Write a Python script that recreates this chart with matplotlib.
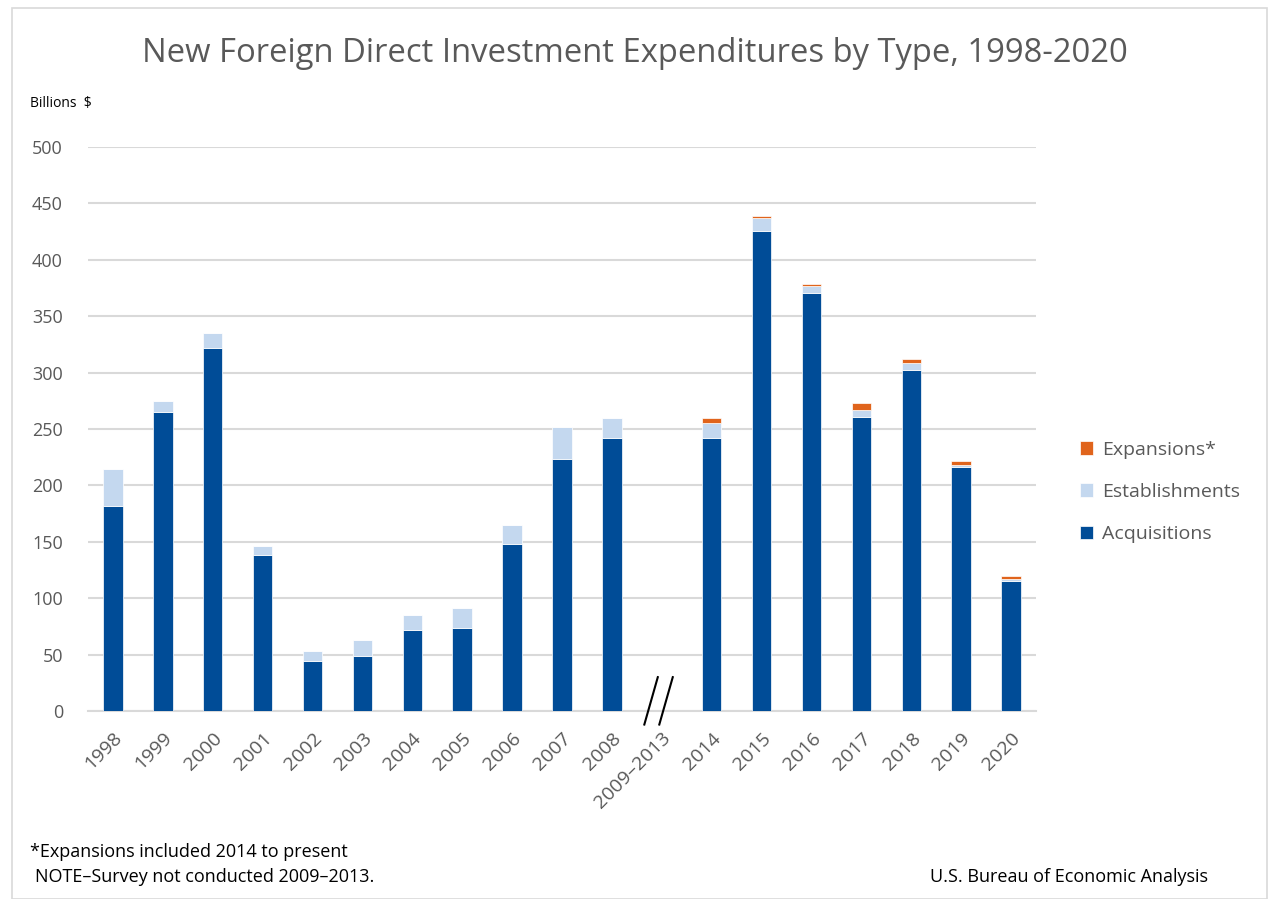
import numpy as np
import matplotlib
matplotlib.use('Agg')
import matplotlib.pyplot as plt
from matplotlib.patches import Rectangle

years = ['1998', '1999', '2000', '2001', '2002', '2003', '2004', '2005', '2006',
         '2007', '2008', '2009\u20132013', '2014', '2015', '2016', '2017', '2018',
         '2019', '2020']
acquisitions = [181.7, 265.0, 321.5, 138.3, 44.3, 49.0, 72.1, 73.9, 147.8,
                223.4, 242.0, np.nan, 242.3, 425.8, 370.8, 261.0, 302.6, 216.0, 115.5]
establishments = [32.8, 9.8, 13.3, 8.0, 8.9, 13.9, 13.0, 17.1, 16.8,
                  28.4, 17.5, np.nan, 13.0, 11.2, 6.2, 5.8, 6.2, 2.0, 1.6]
expansions = [0, 0, 0, 0, 0, 0, 0, 0, 0,
              0, 0, np.nan, 4.2, 2.1, 1.5, 5.9, 3.5, 3.9, 2.8]

c_acq = '#004C97'
c_est = '#C4D8EF'
c_exp = '#E0641C'
gray = '#595959'

plt.rcParams['font.family'] = ['Open Sans', 'DejaVu Sans']

fig = plt.figure(figsize=(12.69, 8.99), dpi=100)
ax = fig.add_axes([88 / 1269, 1 - 711 / 899, (1036 - 88) / 1269, (711 - 147) / 899])

x = np.arange(len(years))
acq = np.array(acquisitions)
est = np.array(establishments)
exp = np.array(expansions)
w = 0.39
ax.bar(x, acq, w, color=c_acq, edgecolor='white', linewidth=0.5, label='Acquisitions', zorder=3)
ax.bar(x, est, w, bottom=acq, color=c_est, edgecolor='white', linewidth=0.5,
       label='Establishments', zorder=3)
ax.bar(x, exp, w, bottom=acq + est, color=c_exp, edgecolor='white', linewidth=0.5,
       label='Expansions*', zorder=3)

ax.set_xlim(-0.5, len(years) - 0.5)
ax.set_ylim(0, 500)
ax.set_yticks(range(0, 501, 50))
ax.yaxis.grid(True, color='#D9D9D9', linewidth=1.5, zorder=0)
ax.set_axisbelow(True)
for s in ['top', 'right', 'left']:
    ax.spines[s].set_visible(False)
ax.spines['bottom'].set_color('#D9D9D9')
ax.spines['bottom'].set_linewidth(1.5)
ax.tick_params(axis='both', length=0, labelcolor=gray)
ax.tick_params(axis='y', pad=18, labelsize=13)
ax.tick_params(axis='x', pad=13, labelsize=14)
ax.set_xticks(x)
ax.set_xticklabels(years, rotation=45, ha='right', rotation_mode='anchor')

# break marks for the survey gap
gap = years.index('2009\u20132013')
for dx in (-0.3, 0.0):
    ax.plot([gap + dx - 0.05, gap + dx + 0.22], [-12, 30], color='black',
            linewidth=1.5, clip_on=False, zorder=5)

handles, labels = ax.get_legend_handles_labels()
fig.legend(handles[::-1], labels[::-1], loc='center left',
           bbox_to_anchor=(1062 / 1269, 1 - 492 / 899), frameon=False,
           fontsize=14, labelcolor=gray, handlelength=0.7, handleheight=0.7,
           handletextpad=0.45, labelspacing=1.25)

fig.text(0.5, 1 - 54 / 899, 'New Foreign Direct Investment Expenditures by Type, 1998-2020',
         ha='center', va='center', fontsize=23.6, color=gray)
fig.text(30 / 1269, 1 - 103 / 899, 'Billions  $', ha='left', va='center',
         fontsize=10, color='black')
fig.text(30 / 1269, 1 - 852 / 899, '*Expansions included 2014 to present',
         ha='left', va='center', fontsize=13, color='black')
fig.text(35 / 1269, 1 - 877 / 899, 'NOTE\u2013Survey not conducted 2009\u20132013.',
         ha='left', va='center', fontsize=13, color='black')
fig.text(1208 / 1269, 1 - 877 / 899, 'U.S. Bureau of Economic Analysis',
         ha='right', va='center', fontsize=13, color='black')

fig.patches.append(Rectangle((12 / 1269, 0), 1 - 12 / 1269 - 2 / 1269, 1 - 8 / 899,
                             transform=fig.transFigure, fill=False,
                             edgecolor='#D9D9D9', linewidth=1.2))

fig.savefig('out.png', dpi=100)
